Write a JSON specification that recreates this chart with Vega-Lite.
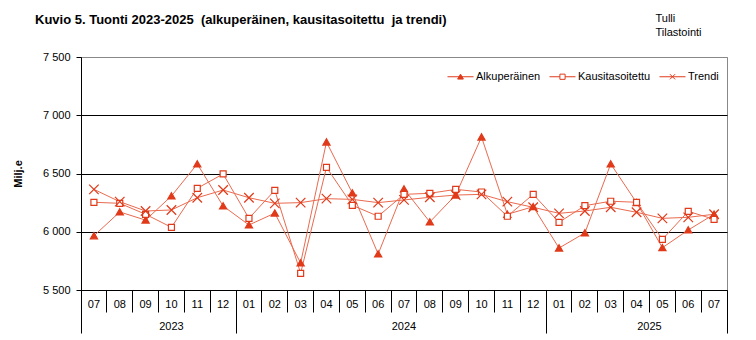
{
  "$schema": "https://vega.github.io/schema/vega-lite/v6.json",
  "width": 646,
  "height": 233,
  "autosize": {"type": "none"},
  "padding": {"left": 81, "top": 57, "right": 29, "bottom": 50},
  "background": "white",
  "title": {
    "text": "Kuvio 5. Tuonti 2023-2025\u00a0 (alkuperäinen, kausitasoitettu\u00a0 ja trendi)",
    "anchor": "start",
    "frame": "group",
    "dx": -46,
    "dy": 15,
    "offset": 0,
    "font": "Liberation Sans",
    "fontSize": 13,
    "fontWeight": "bold",
    "color": "black"
  },
  "data": {
    "values": [
      {"ym": "2023-07", "Alkuperäinen": 5965, "Kausitasoitettu": 6253, "Trendi": 6364},
      {"ym": "2023-08", "Alkuperäinen": 6170, "Kausitasoitettu": 6244, "Trendi": 6258},
      {"ym": "2023-09", "Alkuperäinen": 6100, "Kausitasoitettu": 6150, "Trendi": 6178},
      {"ym": "2023-10", "Alkuperäinen": 6307, "Kausitasoitettu": 6038, "Trendi": 6187},
      {"ym": "2023-11", "Alkuperäinen": 6582, "Kausitasoitettu": 6373, "Trendi": 6292},
      {"ym": "2023-12", "Alkuperäinen": 6221, "Kausitasoitettu": 6496, "Trendi": 6358},
      {"ym": "2024-01", "Alkuperäinen": 6058, "Kausitasoitettu": 6115, "Trendi": 6292},
      {"ym": "2024-02", "Alkuperäinen": 6160, "Kausitasoitettu": 6356, "Trendi": 6244},
      {"ym": "2024-03", "Alkuperäinen": 5732, "Kausitasoitettu": 5643, "Trendi": 6250},
      {"ym": "2024-04", "Alkuperäinen": 6770, "Kausitasoitettu": 6553, "Trendi": 6284},
      {"ym": "2024-05", "Alkuperäinen": 6333, "Kausitasoitettu": 6227, "Trendi": 6278},
      {"ym": "2024-06", "Alkuperäinen": 5809, "Kausitasoitettu": 6133, "Trendi": 6250},
      {"ym": "2024-07", "Alkuperäinen": 6367, "Kausitasoitettu": 6321, "Trendi": 6273},
      {"ym": "2024-08", "Alkuperäinen": 6084, "Kausitasoitettu": 6330, "Trendi": 6296},
      {"ym": "2024-09", "Alkuperäinen": 6315, "Kausitasoitettu": 6364, "Trendi": 6315},
      {"ym": "2024-10", "Alkuperäinen": 6813, "Kausitasoitettu": 6341, "Trendi": 6321},
      {"ym": "2024-11", "Alkuperäinen": 6150, "Kausitasoitettu": 6133, "Trendi": 6258},
      {"ym": "2024-12", "Alkuperäinen": 6215, "Kausitasoitettu": 6321, "Trendi": 6210},
      {"ym": "2025-01", "Alkuperäinen": 5860, "Kausitasoitettu": 6081, "Trendi": 6158},
      {"ym": "2025-02", "Alkuperäinen": 5990, "Kausitasoitettu": 6224, "Trendi": 6178},
      {"ym": "2025-03", "Alkuperäinen": 6582, "Kausitasoitettu": 6262, "Trendi": 6210},
      {"ym": "2025-04", "Alkuperäinen": 6250, "Kausitasoitettu": 6253, "Trendi": 6167},
      {"ym": "2025-05", "Alkuperäinen": 5863, "Kausitasoitettu": 5935, "Trendi": 6115},
      {"ym": "2025-06", "Alkuperäinen": 6015, "Kausitasoitettu": 6175, "Trendi": 6124},
      {"ym": "2025-07", "Alkuperäinen": 6150, "Kausitasoitettu": 6107, "Trendi": 6150}
    ]
  },
  "transform": [
    {"fold": ["Alkuperäinen", "Kausitasoitettu", "Trendi"], "as": ["sarja", "arvo"]}
  ],
  "encoding": {
    "y": {
      "field": "arvo",
      "type": "quantitative",
      "scale": {"domain": [5500, 7500], "nice": false, "zero": false},
      "axis": {
        "title": "Milj.e",
        "values": [5500, 6000, 6500, 7000, 7500],
        "labelExpr": "replace(format(datum.value, ','), ',', ' ')",
        "grid": true,
        "gridColor": {"condition": {"test": "datum.value === 7500", "value": "#888888"}, "value": "black"},
        "gridOpacity": 1,
        "tickSize": 5,
        "tickColor": "black",
        "domainColor": "black",
        "labelColor": "black",
        "labelFontSize": 11,
        "labelPadding": 6,
        "titleFontSize": 11,
        "titleFontWeight": "bold",
        "titleColor": "black",
        "titlePadding": 19
      }
    }
  },
  "layer": [
    {
      "mark": {"type": "line", "strokeWidth": 1, "color": "#EA6A4F"},
      "encoding": {
        "x": {
          "field": "ym", "type": "ordinal", "bandPosition": 0.5,
          "scale": {"type": "band", "paddingInner": 0, "paddingOuter": 0},
          "axis": {
            "orient": "bottom", "title": null, "labelExpr": "substring(datum.value, 5, 7)",
            "labelAngle": 0, "ticks": false, "domain": true, "domainColor": "black",
            "labelPadding": 8, "labelFontSize": 11, "labelColor": "black", "grid": false
          }
        },
        "detail": {"field": "sarja"}
      }
    },
    {
      "mark": {"type": "point", "filled": false, "strokeWidth": 1.2, "size": 100, "stroke": "#E03A1A", "opacity": 1},
      "encoding": {
        "x": {
          "field": "ym", "type": "ordinal", "bandPosition": 0.5,
          "scale": {"type": "band", "paddingInner": 0, "paddingOuter": 0},
          "axis": {
            "orient": "bottom", "title": null, "labels": false, "domain": false,
            "ticks": true, "bandPosition": 1, "tickExtra": true, "tickColor": "black",
            "tickSize": {"condition": {"test": "datum.value === '2025-07'", "value": 43}, "value": 22},
            "grid": false
          }
        },
        "shape": {
          "field": "sarja", "type": "nominal",
          "scale": {
            "domain": ["Alkuperäinen", "Kausitasoitettu", "Trendi"],
            "range": ["M0,-0.65L0.72,0.6L-0.72,0.6Z", "M-0.6,-0.6L0.6,-0.6L0.6,0.6L-0.6,0.6Z", "M-0.95,-0.95L0.95,0.95M-0.95,0.95L0.95,-0.95"]
          },
          "legend": null
        },
        "fill": {
          "field": "sarja", "type": "nominal",
          "scale": {
            "domain": ["Alkuperäinen", "Kausitasoitettu", "Trendi"],
            "range": ["#E03A1A", "#ffffff", "transparent"]
          },
          "legend": null
        }
      }
    },
    {
      "mark": {"type": "point", "filled": false, "opacity": 0, "size": 676, "stroke": "#E03A1A", "strokeWidth": 1},
      "encoding": {
        "x": {
          "field": "ym", "type": "ordinal", "bandPosition": 0.5,
          "scale": {"type": "band", "paddingInner": 0, "paddingOuter": 0},
          "axis": {
            "orient": "bottom", "title": null, "values": ["2023-07", "2024-01", "2025-01"],
            "bandPosition": 0, "tickSize": 43, "tickColor": "black", "domain": false, "grid": false,
            "labelExpr": "substring(datum.value, 0, 4)", "labelAngle": 0,
            "labelOffset": {"condition": [{"test": "datum.value === '2023-07'", "value": 77.5}, {"test": "datum.value === '2024-01'", "value": 155}], "value": 90.4},
            "labelPadding": -13, "labelFontSize": 11, "labelColor": "black"
          }
        },
        "shape": {
          "field": "sarja", "type": "nominal",
          "scale": {
            "domain": ["Alkuperäinen", "Kausitasoitettu", "Trendi"],
            "range": ["M-1,0L1,0M0,-0.2L0.22,0.18L-0.22,0.18Z", "M-1,0L-0.2,0M0.2,0L1,0M-0.2,-0.2L0.2,-0.2L0.2,0.2L-0.2,0.2Z", "M-1,0L1,0M-0.2,-0.2L0.2,0.2M-0.2,0.2L0.2,-0.2"]
          },
          "legend": {
            "title": null, "orient": "none", "legendX": 366, "legendY": 6, "direction": "horizontal",
            "symbolOpacity": 1, "symbolSize": 676, "symbolStrokeWidth": 1, "symbolStrokeColor": "#E03A1A",
            "labelFontSize": 11, "labelColor": "black", "labelOffset": 2, "columnPadding": 6, "padding": 0,
            "encode": {"symbols": {"update": {"stroke": {"value": "#E03A1A"}, "strokeWidth": {"value": 1}, "opacity": {"value": 1}, "strokeOpacity": {"value": 1}}}}
          }
        },
        "fill": {
          "field": "sarja", "type": "nominal",
          "scale": {
            "domain": ["Alkuperäinen", "Kausitasoitettu", "Trendi"],
            "range": ["#E03A1A", "#ffffff", "transparent"]
          },
          "legend": {
            "title": null, "orient": "none", "legendX": 366, "legendY": 6, "direction": "horizontal",
            "symbolOpacity": 1, "symbolSize": 676, "symbolStrokeWidth": 1, "symbolStrokeColor": "#E03A1A",
            "labelFontSize": 11, "labelColor": "black", "labelOffset": 2, "columnPadding": 6, "padding": 0,
            "encode": {"symbols": {"update": {"stroke": {"value": "#E03A1A"}, "strokeWidth": {"value": 1}, "opacity": {"value": 1}, "strokeOpacity": {"value": 1}}}}
          }
        }
      }
    },
    {
      "mark": {"type": "point", "opacity": 0},
      "encoding": {
        "x": {
          "field": "ym", "type": "ordinal", "bandPosition": 0.5,
          "scale": {"type": "band", "paddingInner": 0, "paddingOuter": 0},
          "axis": {
            "orient": "top", "labels": false, "ticks": false, "domain": false, "grid": false,
            "title": ["Tulli", "Tilastointi"], "titleX": 574, "titleY": -45, "titleAlign": "left",
            "titleBaseline": "top", "titleFontSize": 11, "titleFontWeight": "normal",
            "titleLineHeight": 14, "titleColor": "black"
          }
        }
      }
    }
  ],
  "resolve": {
    "scale": {"shape": "independent", "fill": "independent"},
    "axis": {"x": "independent"}
  },
  "config": {
    "font": "Liberation Sans",
    "view": {"stroke": "#888888", "strokeWidth": 1}
  }
}
